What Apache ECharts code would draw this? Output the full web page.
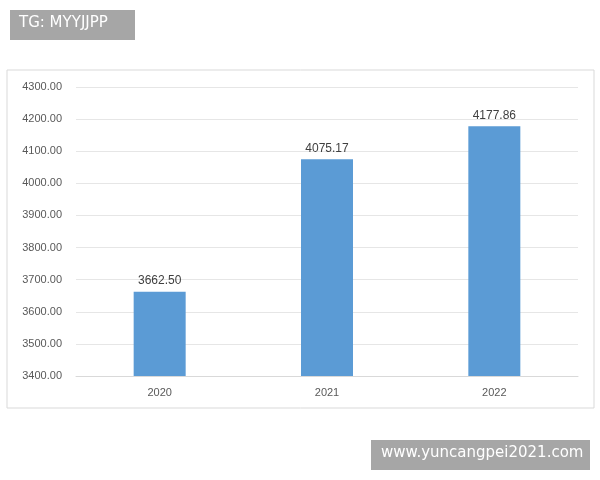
<!DOCTYPE html>
<html><head><meta charset="utf-8">
<script src="https://cdn.jsdelivr.net/npm/echarts@6/dist/echarts.min.js"></script>
<style>html,body{margin:0;padding:0;background:#fff}#c{width:600px;height:480px}</style>
</head><body><div id="c"></div>
<script>
const categories = ['2020', '2021', '2022'];
const values = [3662.50, 4075.17, 4177.86];
const chart = echarts.init(document.getElementById('c'));
chart.setOption({
  animation: false,
  backgroundColor: '#fff',
  graphic: [
    {type: 'rect', shape: {x: 7, y: 70, width: 587, height: 338}, style: {fill: 'none', stroke: '#d9d9d9', lineWidth: 1}},
    {type: 'rect', shape: {x: 10, y: 10, width: 125, height: 30}, style: {fill: '#a6a6a6'}},
    {type: 'text', left: 19, top: 16, style: {text: 'TG: MYYJJPP', fill: '#fff', font: '15px "DejaVu Sans"'}},
    {type: 'rect', shape: {x: 371, y: 440, width: 219, height: 30}, style: {fill: '#a6a6a6'}},
    {type: 'text', left: 381, top: 446, style: {text: 'www.yuncangpei2021.com', fill: '#fff', font: '15px "DejaVu Sans"'}}
  ],
  grid: {left: 76, right: 22, top: 87, bottom: 104},
  xAxis: {
    type: 'category', data: categories,
    axisLine: {lineStyle: {color: '#d9d9d9'}}, axisTick: {show: false},
    axisLabel: {color: '#595959', fontSize: 11, margin: 11}
  },
  yAxis: {
    type: 'value', min: 3400, max: 4300, interval: 100,
    axisLine: {show: false}, axisTick: {show: false},
    axisLabel: {color: '#595959', fontSize: 11, formatter: v => v.toFixed(2), margin: 14},
    splitLine: {lineStyle: {color: '#e6e6e6'}}
  },
  series: [{
    type: 'bar', data: values, barWidth: 52,
    itemStyle: {color: '#5b9bd5'},
    label: {show: true, position: 'top', color: '#404040', fontSize: 12, formatter: p => p.value.toFixed(2)}
  }]
});
</script></body></html>
